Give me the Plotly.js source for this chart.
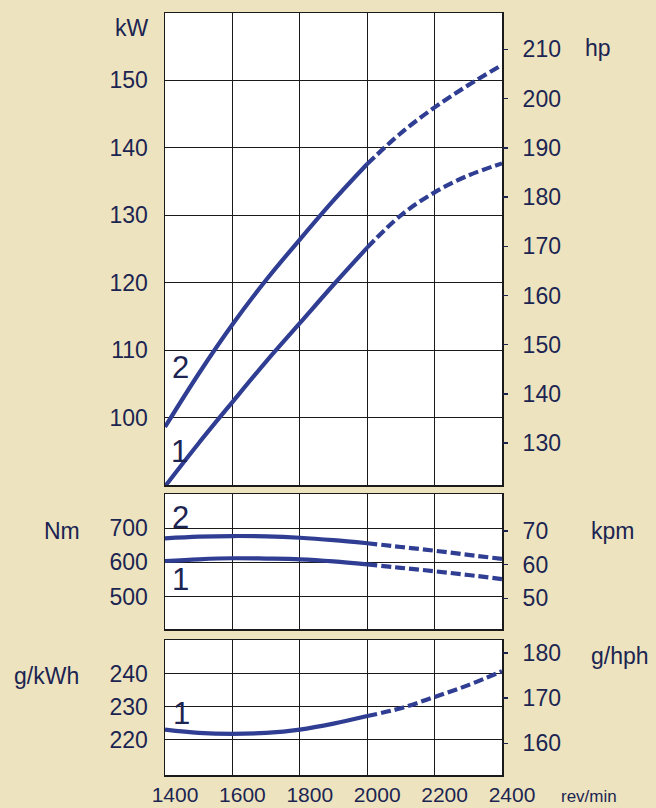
<!DOCTYPE html>
<html>
<head>
<meta charset="utf-8">
<script src="https://cdn.plot.ly/plotly-3.0.1.min.js"></script>
<style>html,body{margin:0;padding:0;background:#ede4bf;}#chart{width:656px;height:808px;}</style>
</head>
<body>
<div id="chart"></div>
<script>
// engine speed, rev/min
const rpm = [1400, 1500, 1600, 1700, 1800, 1900, 2000, 2100, 2200, 2300, 2400];
// power, kW (curve 1 and curve 2)
const power1 = [89.8, 96.2, 102.3, 108.3, 114.0, 119.7, 125.2, 130.0, 133.4, 135.9, 137.7];
const power2 = [98.6, 106.5, 113.8, 120.4, 126.4, 132.2, 137.6, 142.2, 146.0, 149.3, 152.3];
// torque, Nm
const torque1 = [604, 609, 612, 611, 609, 603, 594, 584, 574, 563, 551];
const torque2 = [670, 675, 677, 676, 672, 665, 656, 645, 634, 622, 610];
// specific fuel consumption, g/kWh
const bsfc1 = [223.0, 222.0, 221.7, 222.0, 223.0, 224.8, 227.1, 229.5, 232.9, 236.5, 240.7];
// rpm where the curve turns from solid to dashed
const solidEnd = 2000;

// tick labels
const xTicks = [1400, 1600, 1800, 2000, 2200, 2400];
const kwTicks = [100, 110, 120, 130, 140, 150];
const hpTicks = [130, 140, 150, 160, 170, 180, 190, 200, 210];
const nmTicks = [500, 600, 700];
const kpmTicks = [50, 60, 70];
const gkwhTicks = [220, 230, 240];
const ghphTicks = [160, 170, 180];

const W = 656, H = 808;
const navy = '#1c2452';
const lineCol = '#2f3d92';
const bg = '#ede4bf';
const font = 'Liberation Sans, Arial, sans-serif';
const fs = 23;

function solidPart(arr) { return rpm.map((r, i) => r <= solidEnd ? arr[i] : null); }
function dashPart(arr) { return rpm.map((r, i) => r >= solidEnd ? arr[i] : null); }

function curve(arr, xa, ya) {
  return [
    {x: rpm, y: solidPart(arr), xaxis: xa, yaxis: ya, mode: 'lines', line: {color: lineCol, width: 4.2, shape: 'spline'}, hoverinfo: 'skip', showlegend: false},
    {x: rpm, y: dashPart(arr), xaxis: xa, yaxis: ya, mode: 'lines', line: {color: lineCol, width: 4.2, shape: 'spline', dash: '10px,4px'}, hoverinfo: 'skip', showlegend: false}
  ];
}
// empty carrier traces so the right-hand unit axes are drawn
function carrier(xa, ya) {
  return {x: [], y: [], xaxis: xa, yaxis: ya, mode: 'lines', hoverinfo: 'skip', showlegend: false};
}

const data = [].concat(
  curve(power1, 'x', 'y'), curve(power2, 'x', 'y'),
  curve(torque1, 'x2', 'y2'), curve(torque2, 'x2', 'y2'),
  curve(bsfc1, 'x3', 'y3'),
  [carrier('x', 'y4'), carrier('x2', 'y5'), carrier('x3', 'y6')]
);

// pixel helpers for domains / annotations
const px = v => v / W;
const py = v => 1 - v / H;
const xDom = [px(165), px(502)];

function xAxis(showLabels, anchor) {
  return {
    domain: xDom, anchor: anchor, range: [1400, 2400], tickvals: xTicks,
    showgrid: true, gridcolor: '#1a1a1a', gridwidth: 1.2,
    showline: true, mirror: true, linecolor: '#1a1a1a', linewidth: 1.5,
    zeroline: false, ticks: '', showticklabels: showLabels,
    ticklabelstandoff: 0, ticklabelshift: 10,
    tickfont: {family: font, size: 21, color: navy}, fixedrange: true
  };
}
function yLeft(dom, range, ticks, anchor) {
  return {
    domain: dom, anchor: anchor, range: range, tickvals: ticks,
    showgrid: true, gridcolor: '#1a1a1a', gridwidth: 1.2,
    showline: true, mirror: true, linecolor: '#1a1a1a', linewidth: 1.5,
    zeroline: false, ticks: '', ticklabelstandoff: 11,
    tickfont: {family: font, size: fs, color: navy}, fixedrange: true
  };
}
function yRight(over, anchor, range, ticks) {
  return {
    overlaying: over, anchor: anchor, side: 'right', range: range, tickvals: ticks,
    showgrid: false, showline: false, zeroline: false,
    ticks: 'outside', ticklen: 5, tickwidth: 1.5, tickcolor: navy,
    ticklabelstandoff: 10,
    tickfont: {family: font, size: fs, color: navy}, fixedrange: true
  };
}

const layout = {
  width: W, height: H,
  margin: {l: 0, r: 0, t: 0, b: 0},
  paper_bgcolor: bg, plot_bgcolor: '#ffffff',
  showlegend: false,
  xaxis: xAxis(false, 'y'),
  xaxis2: Object.assign(xAxis(false, 'y2'), {matches: 'x'}),
  xaxis3: Object.assign(xAxis(true, 'y3'), {matches: 'x'}),
  yaxis: yLeft([py(485), py(13)], [90, 160], kwTicks, 'x'),
  yaxis2: yLeft([py(629), py(494)], [405, 800], nmTicks, 'x2'),
  yaxis3: yLeft([py(775), py(640)], [209.2, 250.2], gkwhTicks, 'x3'),
  yaxis4: yRight('y', 'x', [121.5, 217.4], hpTicks),
  yaxis5: yRight('y2', 'x2', [40.9, 80.9], kpmTicks),
  yaxis6: yRight('y3', 'x3', [153.0, 182.9], ghphTicks),
  annotations: [
    {text: 'kW', x: px(132), y: py(28)},
    {text: 'hp', x: px(598), y: py(48)},
    {text: 'Nm', x: px(62), y: py(531)},
    {text: 'kpm', x: px(612), y: py(531)},
    {text: 'g/kWh', x: px(46), y: py(676)},
    {text: 'g/hph', x: px(620), y: py(656)},
    {text: 'rev/min', x: px(589), y: py(796), size: 17},
    {text: '2', x: px(180), y: py(367), size: 31},
    {text: '1', x: px(179), y: py(451), size: 31},
    {text: '2', x: px(180), y: py(517), size: 31},
    {text: '1', x: px(180), y: py(579), size: 31},
    {text: '1', x: px(181), y: py(713), size: 31}
  ].map(a => ({
    text: a.text, x: a.x, y: a.y, xref: 'paper', yref: 'paper',
    xanchor: 'center', yanchor: 'middle', showarrow: false,
    font: {family: font, size: a.size || fs, color: navy}
  }))
};

Plotly.newPlot('chart', data, layout, {staticPlot: true, displayModeBar: false});
</script>
</body>
</html>
